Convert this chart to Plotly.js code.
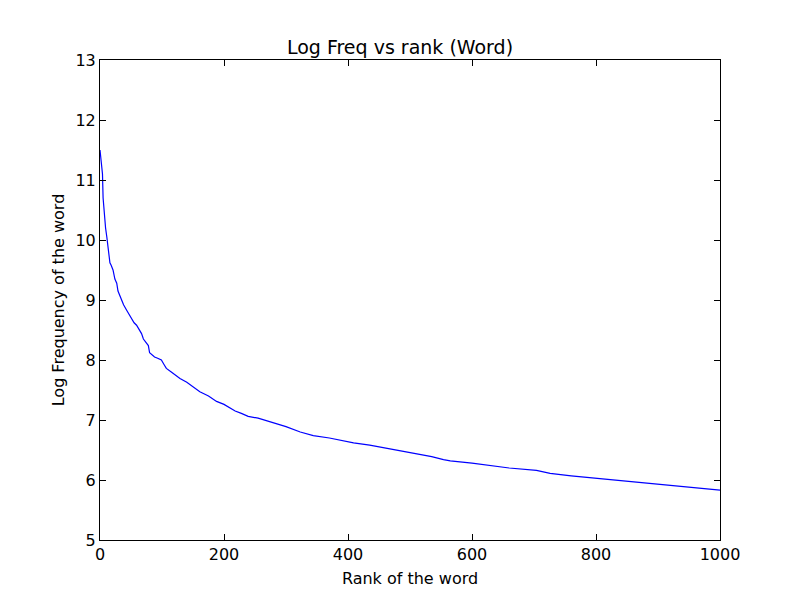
<!DOCTYPE html>
<html>
<head>
<meta charset="utf-8">
<script src="https://cdn.plot.ly/plotly-3.0.1.min.js"></script>
<style>html,body{margin:0;padding:0;background:#fff;}#chart{width:800px;height:600px;}</style>
</head>
<body>
<div id="chart"></div>
<script>
const ranks = [0,1,2,3,4,5,7,9,11,13,16,18,21,24,27,29,31,34,38,43,47,51,55,59,63,67,70,73,78,80,84,88,93,99,103,107,115,122,129,140,150,161,175,188,200,218,228,239,255,268,280,300,323,344,370,409,435,462,490,511,535,554,565,600,629,660,704,726,760,800,855,900,941,970,1000];
const logFreq = [11.5,11.4,11.35,11.25,11.1,10.7,10.4,10.2,10.05,9.85,9.62,9.58,9.5,9.35,9.28,9.15,9.1,9.0,8.92,8.83,8.76,8.69,8.62,8.58,8.5,8.44,8.35,8.3,8.24,8.12,8.08,8.05,8.03,8.0,7.93,7.86,7.8,7.75,7.69,7.63,7.56,7.47,7.40,7.31,7.26,7.15,7.11,7.06,7.03,6.99,6.96,6.89,6.80,6.74,6.70,6.62,6.58,6.53,6.47,6.43,6.39,6.34,6.32,6.28,6.24,6.20,6.16,6.11,6.07,6.03,5.97,5.93,5.89,5.86,5.83];
const xTicks = [0,200,400,600,800,1000];
const yTicks = [5,6,7,8,9,10,11,12,13];

const fam = 'DejaVu Sans, sans-serif';
const axisCommon = {
  showline: true, mirror: 'ticks', linecolor: '#000', linewidth: 1,
  ticks: 'inside', ticklen: 6, tickcolor: '#000', tickwidth: 1,
  showgrid: false, zeroline: false, tickfont: {family: fam, size: 16, color: '#000'}
};
Plotly.newPlot('chart', [{
  x: ranks, y: logFreq, type: 'scatter', mode: 'lines',
  line: {color: '#0000ff', width: 1.2}
}], {
  width: 800, height: 600,
  margin: {l: 100, r: 80, t: 60, b: 60},
  paper_bgcolor: '#fff', plot_bgcolor: '#fff',
  font: {family: fam, size: 16, color: '#000'},
  showlegend: false,
  title: {text: 'Log Freq vs rank (Word)', font: {family: fam, size: 19, color: '#000'}, x: 0.5, xanchor: 'center', y: 0.921, yanchor: 'middle'},
  xaxis: Object.assign({}, axisCommon, {range: [0, 1000], tickvals: xTicks, ticktext: xTicks.map(String),
    title: {text: 'Rank of the word', font: {family: fam, size: 16, color: '#000'}, standoff: 9}}),
  yaxis: Object.assign({}, axisCommon, {range: [5, 13], tickvals: yTicks, ticktext: yTicks.map(String),
    title: {text: 'Log Frequency of the word', font: {family: fam, size: 16, color: '#000'}, standoff: 6}})
}, {displayModeBar: false, staticPlot: true});
</script>
</body>
</html>
